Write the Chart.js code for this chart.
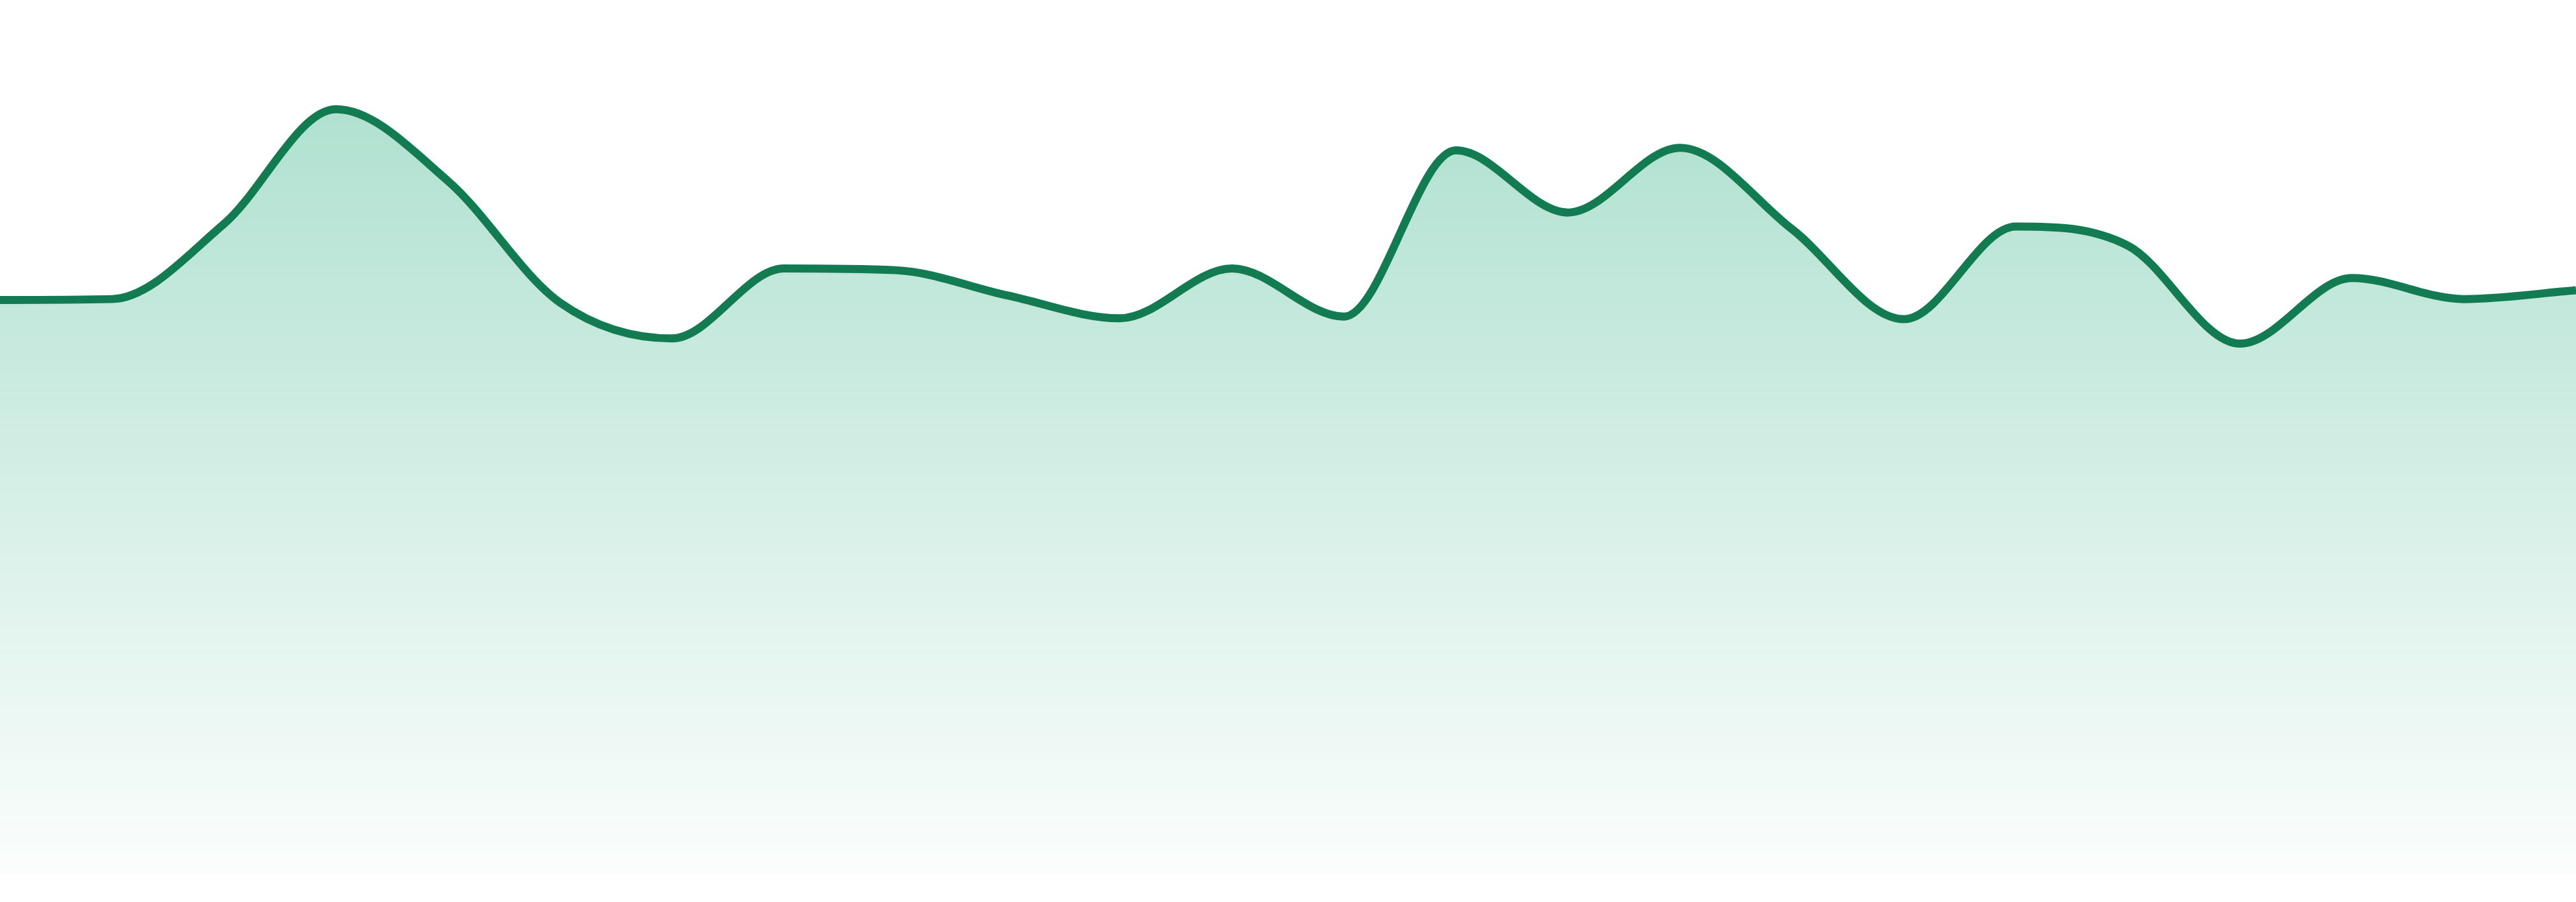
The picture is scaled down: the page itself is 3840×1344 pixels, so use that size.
<!DOCTYPE html>
<html>
<head>
<meta charset="utf-8">
<script src="https://cdn.jsdelivr.net/npm/chart.js@4.4.1/dist/chart.umd.min.js"></script>
<style>
  html, body { margin: 0; padding: 0; background: #ffffff; overflow: hidden; }
  #wrap { width: 3840px; height: 1344px; position: relative; }
  canvas { display: block; }
</style>
</head>
<body>
<div id="wrap"><canvas id="chart" width="3840" height="1344"></canvas></div>
<script>
// values, 0-100 scale (0 = bottom of the fill)
const labels = ['1', '2', '3', '4', '5', '6', '7', '8', '9', '10', '11', '12',
  '13', '14', '15', '16', '17', '18', '19', '20', '21', '22', '23', '24'];
const values = [65.7, 65.8, 74.4, 87.5, 79.3, 65.4, 61.3, 69.3, 69.1, 66.2, 63.6, 69.3,
  63.8, 82.8, 75.7, 83.1, 73.8, 63.5, 74.1, 71.9, 60.7, 68.2, 65.8, 66.8];

const lineColor = '#137b52';

const ctx = document.getElementById('chart').getContext('2d');

const fillGradient = (context) => {
  const area = context.chart.chartArea;
  if (!area) return 'rgba(30, 170, 120, 0.35)';
  const g = context.chart.ctx.createLinearGradient(0, area.top, 0, area.bottom);
  g.addColorStop(0, 'rgba(30, 170, 120, 0.40)');
  g.addColorStop(1, 'rgba(30, 170, 120, 0.02)');
  return g;
};

new Chart(ctx, {
  type: 'line',
  data: {
    labels: labels,
    datasets: [
      {
        data: values,
        borderColor: lineColor,
        backgroundColor: fillGradient,
        fill: 'origin',
        tension: 0.4,
        cubicInterpolationMode: 'monotone', // flat at every peak and dip, like the picture
        borderWidth: 12,
        pointRadius: 0,
        pointHoverRadius: 0
      }
    ]
  },
  options: {
    responsive: false,
    devicePixelRatio: 1,
    animation: false,
    layout: {
      autoPadding: false,
      padding: { top: 0, right: 0, bottom: 41, left: 0 }
    },
    scales: {
      x: { display: false, offset: false },
      y: { display: false, min: 0, max: 100 }
    },
    plugins: {
      legend: { display: false },
      tooltip: { enabled: false }
    }
  }
});
</script>
</body>
</html>
